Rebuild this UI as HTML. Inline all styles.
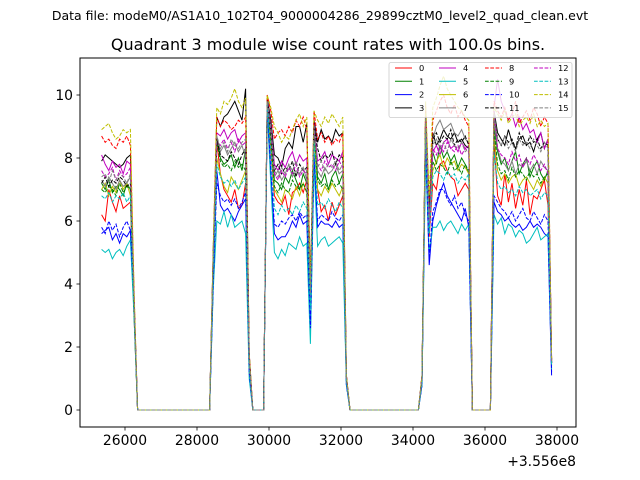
<!DOCTYPE html>
<html><head><meta charset="utf-8"><style>
body{margin:0;background:#fff}
svg{display:block;font-family:"DejaVu Sans","Liberation Sans",sans-serif}
</style></head><body>
<svg id="chart" width="640" height="480" viewBox="0 0 640 480">
<rect width="640" height="480" fill="#fff"/>
<text x="320" y="20" text-anchor="middle" font-size="12.5">Data file: modeM0/AS1A10_102T04_9000004286_29899cztM0_level2_quad_clean.evt</text>
<text x="328" y="50" text-anchor="middle" font-size="16">Quadrant 3 module wise count rates with 100.0s bins.</text>
<defs><clipPath id="clip"><rect x="80" y="58" width="496" height="369"/></clipPath></defs>
<g id="series" clip-path="url(#clip)"></g>
<g id="axes"></g>
<rect x="80" y="58" width="496" height="369" fill="none" stroke="#000" stroke-width="1"/>
<text x="576" y="466" text-anchor="end" font-size="13.9">+3.556e8</text>
<g id="legend"></g>
</svg>
<script>
const startTime = 25350;
const binSize = 100;
const xTicks = [26000, 28000, 30000, 32000, 34000, 36000, 38000];
const yTicks = [0, 2, 4, 6, 8, 10];
const seriesLabels = ["0","1","2","3","4","5","6","7","8","9","10","11","12","13","14","15"];
const seriesColors = ["#ff0000","#008000","#0000ff","#000000","#bf00bf","#00bfbf","#bfbf00","#808080","#ff0000","#008000","#0000ff","#000000","#bf00bf","#00bfbf","#bfbf00","#808080"];
const Z21 = Array(21).fill(0), Z4 = Array(4).fill(0), Z20 = Array(20).fill(0), Z6 = Array(6).fill(0);
function build(a,b,c,d,e){return [].concat(a,Z21,b,Z4,c,Z20,d,Z6,e);}
const s0 = build([6.2,6.0,7.0,6.6,6.3,6.8,6.4,6.5,6.6,3.0],[4.5,8.5,7.5,7.0,6.8,6.6,7.0,6.4,6.5,7.2,1.5],[9.7,8.2,6.8,6.6,6.5,6.8,6.2,6.9,7.0,7.2,6.9,7.3,3.8,8.8,7.0,6.3,6.5,6.0,6.6,6.2,6.5,6.8,1.0],[1.0,9.0,5.5,7.2,7.0,7.8,7.9,7.6,7.4,7.3,6.8,7.0,7.2,7.0],[8.5,6.8,6.5,7.5,6.6,7.2,6.4,7.0,6.5,7.3,6.2,6.8,6.7,7.0,7.3,6.5,1.5]);
const s1 = build([7.2,7.0,7.3,6.9,7.1,7.0,6.8,7.2,7.0,3.2],[4.8,8.6,8.0,7.8,7.9,8.1,7.7,8.0,7.6,8.3,1.5],[9.8,8.8,7.3,7.2,7.0,7.4,7.2,7.6,7.3,7.0,7.5,7.2,3.5,9.0,7.4,7.2,7.5,7.0,7.4,7.6,7.2,7.5,1.0],[1.0,9.3,6.5,8.2,7.8,8.4,8.0,8.2,7.9,8.1,7.7,8.0,7.8,7.5],[9.0,8.2,7.8,8.0,7.6,7.9,8.2,7.5,7.8,8.0,7.4,7.7,7.9,7.5,7.3,7.6,1.5]);
const s2 = build([5.6,5.7,5.8,5.4,5.6,5.3,5.6,5.5,5.7,3.5],[4.0,7.6,6.5,6.3,6.4,6.2,6.0,6.3,6.5,6.7,1.2],[9.5,7.5,5.6,5.4,5.5,5.5,5.7,6.0,5.8,6.2,5.9,6.0,2.4,8.0,5.8,6.0,5.9,5.9,5.8,6.0,5.8,5.9,0.8],[0.8,8.5,4.6,6.0,6.5,6.9,7.2,6.8,6.6,6.4,6.2,6.0,6.4,5.8],[6.6,6.3,6.2,6.0,6.1,5.9,5.8,5.9,5.7,5.8,6.0,5.8,5.9,5.8,5.6,5.5,1.1]);
const s3 = build([7.9,8.1,8.0,7.9,7.8,7.7,7.8,8.0,8.1,3.6],[5.0,9.3,9.0,9.3,9.4,9.6,9.8,9.5,9.2,10.2,1.8],[9.9,9.2,8.1,8.0,7.7,8.3,8.5,8.3,9.0,9.0,8.5,9.1,3.9,9.2,8.5,8.9,8.6,8.7,8.5,8.9,8.7,8.8,1.1],[1.1,9.4,6.0,8.8,8.4,8.6,8.9,8.7,8.6,8.8,8.5,8.6,8.4,8.3],[9.5,8.8,8.6,8.4,8.9,8.5,8.3,8.6,8.7,8.4,8.5,8.2,8.6,8.8,8.3,8.6,1.6]);
const s4 = build([8.1,7.8,7.6,7.9,7.7,7.8,7.5,7.9,7.8,3.5],[4.8,8.8,8.7,8.9,8.6,8.8,8.9,8.5,8.7,8.8,1.6],[9.8,9.0,7.8,7.6,7.9,7.7,8.0,8.2,7.8,8.1,7.9,8.0,3.7,9.1,7.9,8.0,8.2,7.8,8.1,8.0,7.9,8.2,1.0],[1.0,9.2,5.8,8.2,8.4,8.1,8.5,8.6,8.3,8.4,8.2,8.5,8.3,8.4],[9.6,10.5,9.8,9.5,9.2,9.4,9.0,9.3,8.9,9.1,8.8,8.9,8.5,8.8,8.3,8.6,1.6]);
const s5 = build([5.1,5.0,5.1,4.8,5.0,5.1,4.9,5.2,5.4,3.0],[3.8,6.0,5.9,6.3,5.8,6.2,5.8,5.9,6.0,5.6,1.0],[9.5,7.2,5.0,4.8,5.1,4.9,5.3,5.2,5.1,5.5,5.2,5.3,2.1,7.8,5.2,5.4,5.5,5.2,5.3,5.4,5.5,5.3,0.8],[0.8,8.0,5.0,5.8,5.8,6.0,5.7,5.9,6.0,5.8,5.6,5.9,5.7,5.9],[6.2,5.9,6.1,5.6,5.9,5.8,5.5,5.7,5.6,5.3,5.4,5.6,5.8,5.4,5.5,5.6,1.3]);
const s6 = build([7.0,7.2,6.8,7.1,6.9,7.3,7.0,7.2,6.8,3.3],[4.6,8.0,7.5,7.1,6.9,7.4,7.2,7.0,7.3,7.6,1.4],[9.7,8.5,7.0,6.8,6.6,7.0,6.9,6.7,7.1,6.8,7.2,6.9,3.4,8.7,7.0,6.8,7.1,6.9,7.2,7.0,6.8,7.1,1.0],[1.0,9.0,6.2,7.6,7.9,8.1,7.7,8.0,7.8,7.9,7.6,7.8,7.7,7.5],[8.7,7.6,7.3,7.5,7.2,7.4,7.5,7.1,7.3,7.4,7.2,7.0,7.3,7.1,7.4,7.2,1.4]);
const s7 = build([7.3,7.1,7.4,7.2,7.0,7.3,7.1,7.2,7.4,3.4],[4.8,8.7,8.2,8.4,8.1,8.3,8.5,8.2,8.4,8.0,1.6],[9.8,8.8,7.4,7.6,7.3,7.5,7.8,7.4,7.6,7.5,7.7,7.3,3.6,8.9,7.6,7.4,7.7,7.5,7.6,7.8,7.5,7.6,1.0],[1.0,9.4,6.0,8.6,9.0,9.2,8.9,9.0,9.1,8.8,8.7,8.9,8.6,8.5],[9.2,8.3,7.9,7.8,7.6,7.9,7.5,7.8,7.7,7.9,7.6,7.8,7.5,7.9,7.7,7.6,1.5]);
const s8 = build([8.7,8.5,8.6,8.4,8.3,8.6,8.5,8.7,8.4,3.8],[5.0,9.3,9.0,9.2,9.1,8.9,9.0,9.2,9.1,9.3,1.8],[10.0,9.5,8.6,8.8,8.9,8.7,9.0,8.8,9.2,9.0,9.3,8.9,4.0,9.5,8.6,8.8,8.5,8.7,8.4,8.6,8.5,8.8,1.1],[1.1,9.7,6.5,9.2,9.5,9.8,10.0,9.6,9.4,9.7,9.3,9.5,9.2,9.0],[9.8,9.5,9.3,9.6,9.2,9.4,9.8,9.1,9.3,9.5,9.2,9.6,9.4,9.0,9.3,9.1,1.6]);
const s9 = build([7.0,6.9,7.1,7.0,6.8,7.2,6.9,7.1,7.0,3.2],[4.7,8.5,7.9,7.7,7.8,7.6,7.9,7.7,7.8,7.6,1.5],[9.8,8.6,7.1,6.9,7.2,7.0,6.9,7.3,7.1,7.0,7.2,6.9,3.5,8.9,7.3,7.1,7.2,7.0,7.3,7.1,7.2,7.0,1.0],[1.0,9.2,6.4,7.9,7.6,7.8,7.7,7.5,7.9,7.6,7.7,7.5,7.8,7.6],[8.9,7.8,7.5,7.6,7.3,7.7,7.4,7.6,7.5,7.3,7.6,7.4,7.5,7.2,7.4,7.5,1.5]);
const s10 = build([5.8,5.6,6.0,5.7,5.9,5.5,5.8,6.0,5.7,3.5],[4.0,7.2,6.8,6.6,6.7,6.5,6.7,6.4,6.6,6.9,1.2],[9.6,7.6,5.9,5.8,6.0,5.9,6.1,6.2,6.0,6.3,6.1,6.2,2.6,8.1,6.0,6.2,6.1,6.0,6.3,6.1,6.0,6.2,0.8],[0.8,8.6,4.8,6.3,6.6,7.0,7.0,6.7,6.5,6.8,6.4,6.6,6.2,6.0],[6.8,6.6,6.4,6.3,6.1,6.3,6.0,6.2,6.4,6.1,6.0,6.3,6.1,5.9,6.2,6.0,1.2]);
const s11 = build([7.2,7.4,7.1,7.3,7.2,7.4,7.3,7.1,7.2,3.4],[4.9,8.6,8.1,8.0,7.9,8.2,8.0,7.8,8.1,8.3,1.6],[9.8,8.9,7.6,7.8,7.5,7.7,7.6,7.9,7.4,7.8,7.6,7.7,3.7,9.0,8.3,7.9,8.1,8.0,8.2,7.8,8.1,8.0,1.0],[1.0,9.3,6.2,8.6,8.8,8.5,8.7,8.6,8.9,8.4,8.6,8.5,8.7,8.4],[9.3,8.6,8.4,8.7,8.5,8.6,8.3,8.8,8.5,8.4,8.7,8.5,8.6,8.3,8.5,8.4,1.5]);
const s12 = build([7.6,7.4,7.5,7.7,7.3,7.6,7.4,7.5,7.7,3.4],[4.9,8.5,8.4,8.6,8.3,8.5,8.2,8.6,8.4,8.5,1.6],[9.8,8.9,7.5,7.3,7.6,7.4,7.7,7.5,7.8,7.4,7.6,7.5,3.6,8.9,7.8,7.6,7.9,7.7,7.8,7.6,7.9,7.7,1.0],[1.0,9.2,5.9,8.3,8.1,8.4,8.2,8.5,8.3,8.2,8.4,8.1,8.3,8.2],[9.5,8.3,8.1,8.0,7.8,8.2,7.9,8.1,7.7,8.0,7.8,8.1,7.9,7.6,7.8,7.5,1.5]);
const s13 = build([6.8,6.7,6.9,6.6,6.8,6.7,6.9,6.6,6.8,3.1],[4.5,7.8,7.4,7.2,7.3,7.1,7.3,7.0,7.2,7.4,1.4],[9.7,8.2,6.4,6.2,6.5,6.3,6.4,6.2,6.5,6.3,6.6,6.4,3.2,8.5,6.5,6.6,6.4,6.7,6.5,6.3,6.6,6.4,0.9],[0.9,8.9,5.6,7.4,7.6,7.5,7.3,7.6,7.4,7.5,7.2,7.4,7.3,7.5],[8.2,7.2,7.0,7.1,6.9,7.0,6.8,7.1,6.9,7.0,6.8,6.9,7.0,6.7,6.9,6.8,1.4]);
const s14 = build([8.9,9.0,9.1,8.8,8.6,8.7,8.9,8.8,8.9,3.9],[5.2,9.6,9.4,9.8,9.7,9.9,10.2,9.8,9.6,9.9,1.8],[10.0,9.6,9.0,8.8,8.5,8.7,8.6,8.9,9.2,9.4,9.0,9.3,4.0,9.5,9.2,9.0,9.3,9.1,9.4,9.2,9.0,9.3,1.1],[1.1,9.8,6.8,9.6,9.9,10.3,10.6,10.2,10.0,9.8,9.6,9.5,9.3,9.2],[9.6,9.4,9.2,9.5,9.1,9.3,9.4,9.0,9.2,9.3,9.1,9.4,9.0,9.2,9.0,9.1,1.6]);
const s15 = build([7.4,7.5,7.2,7.6,7.3,7.5,7.4,7.2,7.5,3.4],[4.9,8.7,8.3,8.5,8.2,8.6,8.4,8.3,8.5,8.6,1.6],[9.8,9.0,7.6,7.4,7.7,7.5,7.8,7.6,7.9,7.5,7.7,7.6,3.7,9.0,7.7,7.9,7.6,7.8,7.7,7.9,7.6,7.8,1.0],[1.0,9.3,6.0,8.4,8.6,8.3,8.5,8.2,8.6,8.4,8.3,8.5,8.2,8.3],[9.4,8.6,8.4,8.7,8.3,8.5,8.2,8.6,8.4,8.5,8.3,8.6,8.4,8.2,8.5,8.3,1.5]);
const allSeries = [s0,s1,s2,s3,s4,s5,s6,s7,s8,s9,s10,s11,s12,s13,s14,s15];

const NS = "http://www.w3.org/2000/svg";
function xScale(t){return 125 + (t-26000)*0.036;}
function yScale(v){return 410 - v*31.5;}
function mk(tag, attrs, parent){const e=document.createElementNS(NS,tag);for(const k in attrs)e.setAttribute(k,attrs[k]);parent.appendChild(e);return e;}

const sg = document.getElementById('series');
allSeries.forEach((vals, i) => {
  const pts = vals.map((v, j) => xScale(startTime + j*binSize).toFixed(1) + ',' + yScale(v).toFixed(1)).join(' ');
  const attrs = {points: pts, fill: 'none', stroke: seriesColors[i], 'stroke-width': 1};
  if (i >= 8) attrs['stroke-dasharray'] = '3.7,1.6';
  const pl = mk('polyline', attrs, sg);
  
  
});

const ax = document.getElementById('axes');
xTicks.forEach(t => {
  const x = xScale(t);
  const l = mk('line', {x1:x, x2:x, y1:427, y2:430.5, stroke:'#000', 'stroke-width':0.8}, ax);
  
  
  const tx = mk('text', {x:x, y:445, 'text-anchor':'middle', 'font-size':13.9}, ax);
  tx.textContent = t;
  
  
});
yTicks.forEach(v => {
  const y = yScale(v);
  const l = mk('line', {x1:76.5, x2:80, y1:y, y2:y, stroke:'#000', 'stroke-width':0.8}, ax);
  
  
  const tx = mk('text', {x:73, y:y+5, 'text-anchor':'end', 'font-size':13.9}, ax);
  tx.textContent = v;
  
  
});

const lg = document.getElementById('legend');
const box = mk('rect', {x:389, y:62.5, width:183, height:55, rx:2, fill:'#fff', 'fill-opacity':0.8, stroke:'#ccc', 'stroke-width':0.8}, lg);


const colX = [395, 439, 485, 534];
seriesLabels.forEach((lab, i) => {
  const c = Math.floor(i/4), r = i%4;
  const y = 68 + r*13.3;
  const attrs = {x1:colX[c], x2:colX[c]+17, y1:y, y2:y, stroke:seriesColors[i], 'stroke-width':1};
  if (i >= 8) attrs['stroke-dasharray'] = '3.7,1.6';
  const l = mk('line', attrs, lg);
  
  
  const t = mk('text', {x:colX[c]+24, y:y+3, 'font-size':8.3}, lg);
  t.textContent = lab;
  
  
});
</script>
</body></html>
